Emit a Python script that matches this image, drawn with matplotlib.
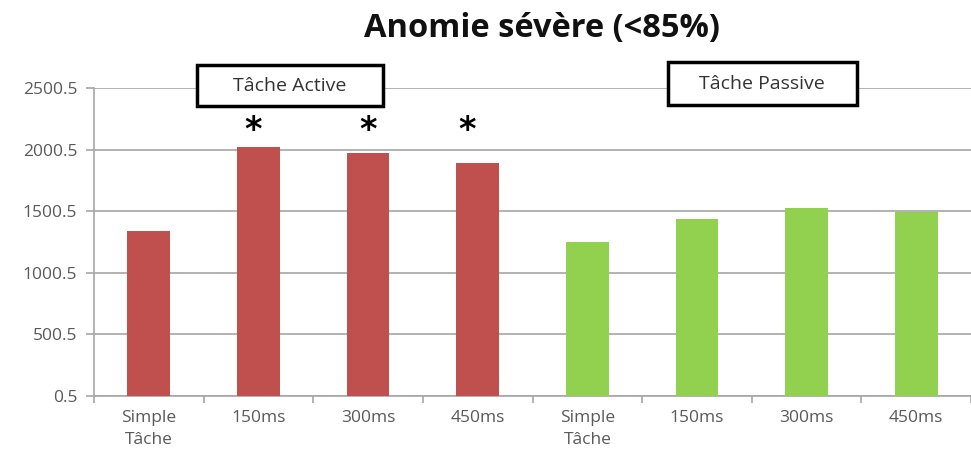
import matplotlib
matplotlib.use("Agg")
import matplotlib.pyplot as plt
from matplotlib.patches import Rectangle
import numpy as np

categories = ["Simple\nTâche", "150ms", "300ms", "450ms", "Simple\nTâche", "150ms", "300ms", "450ms"]
active_values = [1343, 2020, 1972, 1896]
passive_values = [1254, 1435, 1530, 1498]
significant = [False, True, True, True]
y_ticks = [0.5, 500.5, 1000.5, 1500.5, 2000.5, 2500.5]
title = "Anomie sévère (<85%)"
group_labels = ["Tâche Active", "Tâche Passive"]

red = "#C0504D"
green = "#92D050"
grid_c = "#A6A6A6"
txt_c = "#595959"

plt.rcParams['font.family'] = ['Open Sans', 'DejaVu Sans']

W, H = 971, 461
fig = plt.figure(figsize=(W/100, H/100), dpi=100)
ax = fig.add_axes([94/W, 65/H, 1 - 94/W, (396-88.3)/H])

x = np.arange(len(categories))
values = active_values + passive_values
colors = [red]*len(active_values) + [green]*len(passive_values)
ax.bar(x, values, width=0.39, color=colors, zorder=3)

ax.set_ylim(0.5, 2500.5)
ax.set_xlim(-0.5, 7.5 - 6/110.3)
ax.set_yticks(y_ticks)
ax.set_yticklabels([f"{v:.1f}" for v in y_ticks])
ax.yaxis.grid(True, color=grid_c, linewidth=1.2, zorder=0)
ax.set_axisbelow(True)

ax.set_xticks(x)
ax.set_xticklabels(categories, linespacing=1.55)
ax.set_xticks(np.arange(-0.5, 8, 1.0), minor=True)
ax.tick_params(axis='x', which='major', length=0, pad=10, labelsize=12.5, labelcolor=txt_c)
ax.tick_params(axis='x', which='minor', length=5, color=grid_c, width=1.2)
ax.tick_params(axis='y', length=6, color=grid_c, width=1.2, labelsize=12.5, labelcolor=txt_c, pad=6)

for s in ["top", "right"]:
    ax.spines[s].set_visible(False)
for s in ["left", "bottom"]:
    ax.spines[s].set_color(grid_c)
    ax.spines[s].set_linewidth(1.2)

fig.text(542/W, 1 - 28/H, title, ha='center', va='center', fontsize=23.5, fontweight='bold', color='#111111')

def px_box(x0, y0, x1, y1):
    r = Rectangle((x0/W, 1 - y1/H), (x1-x0)/W, (y1-y0)/H, transform=fig.transFigure,
                  facecolor='white', edgecolor='black', linewidth=2.5, zorder=6, clip_on=False)
    ax.add_patch(r)

px_box(197, 65, 383, 106)
px_box(668, 62, 857, 105)
ax.text(290/W, 1 - 86/H, group_labels[0], transform=fig.transFigure, ha='center', va='center',
        fontsize=14, color='#333333', zorder=10)
ax.text(762/W, 1 - 84/H, group_labels[1], transform=fig.transFigure, ha='center', va='center',
        fontsize=14, color='#333333', zorder=10)

star_y = 2161
star_dx = [0, -0.045, 0, -0.1]
for i, sig in enumerate(significant):
    if sig:
        ax.text(x[i] + star_dx[i], star_y, "*", ha='center', va='center',
                fontsize=24, fontweight='bold', color='black', family='DejaVu Sans', zorder=10)

fig.savefig("out.png", dpi=100)
